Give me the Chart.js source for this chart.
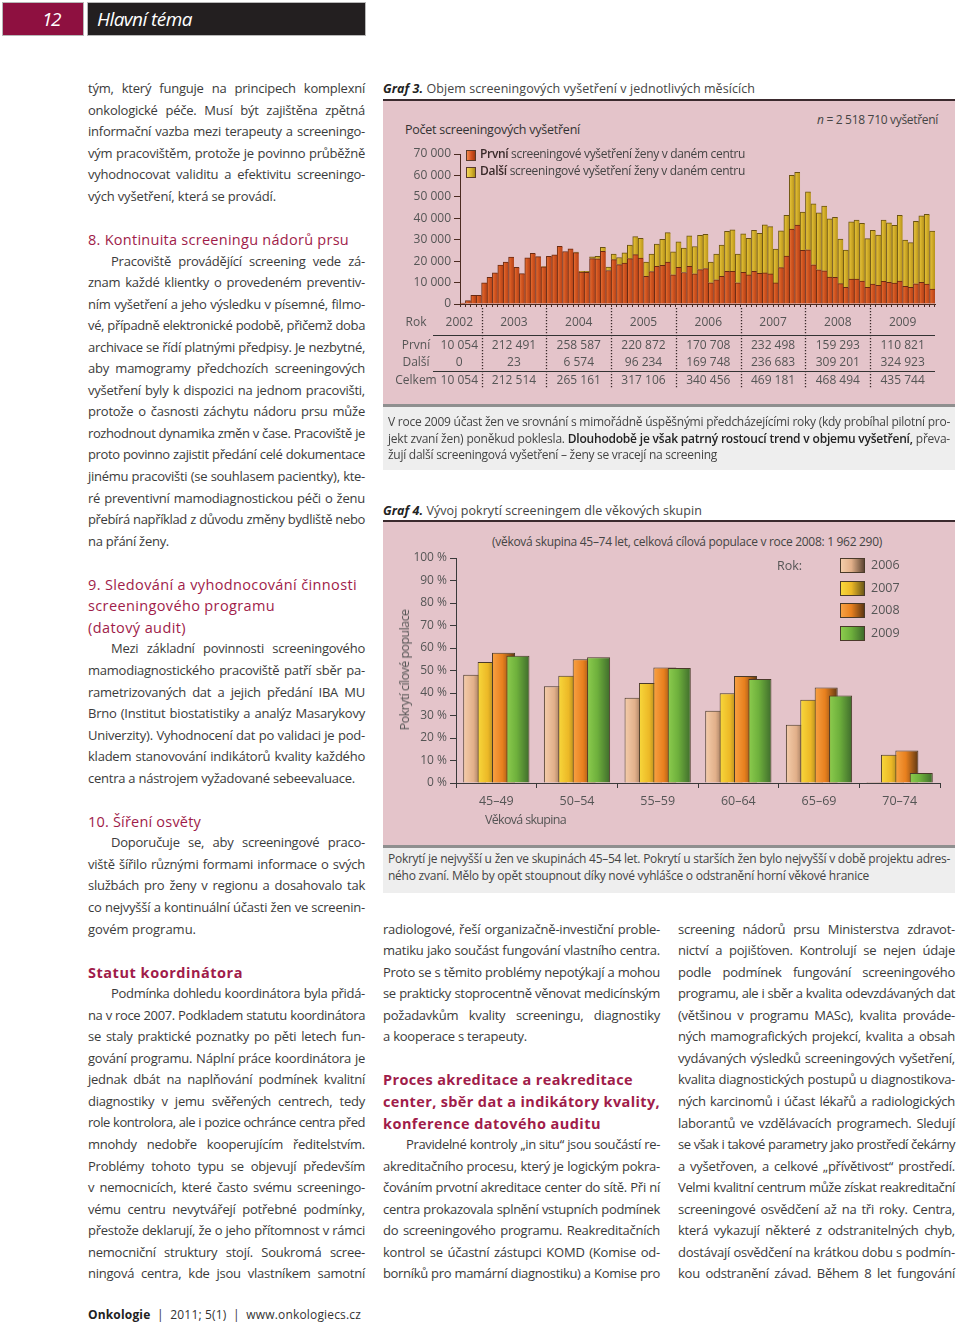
<!DOCTYPE html>
<html lang="cs">
<head>
<meta charset="utf-8">
<title>Onkologie – Hlavní téma</title>
<script src="https://cdn.jsdelivr.net/npm/chart.js@4.4.1/dist/chart.umd.min.js"></script>
<style>
html,body{margin:0;padding:0;background:#fff}
body{position:relative;width:960px;height:1325px;overflow:hidden;font-family:'Open Sans','Noto Sans',sans-serif;color:#3b3b3b}
.a{position:absolute;white-space:nowrap}
.blk{position:absolute}
.ln{overflow:visible;text-align:justify;text-align-last:justify;white-space:normal}
.ln.e,.ln.h,.ln.b,.ln.x{text-align:left;text-align-last:left;white-space:nowrap}
.ln.i{padding-left:23px}
.ln.h{color:#a01c4a;font-size:14.5px}
.ln.b{color:#a01c4a;font-size:14.5px;font-weight:700}
.cap b{font-weight:600;color:#222}
.pink{position:absolute;left:383px;width:572px;background:#e4c4ca}
.rule{position:absolute;left:383px;width:572px;background:#3b2a2e}
.grey{position:absolute;left:383px;width:572px;background:#8f8f8f}
.band{position:absolute;left:383px;width:572px;background:#eeeeee}
.lg{position:absolute;border:1px solid #5a3a2a;box-sizing:border-box}
canvas{position:absolute}
.t12{font-size:12px;line-height:16px}
</style>
</head>
<body>

<!-- header -->
<div class="a" style="left:3px;top:3px;width:80px;height:32px;background:#8e1040;box-shadow:0 0 0 1px #b8b8b8"></div>
<div class="a" data-w="18" style="left:42px;top:5px;font-size:19px;line-height:28px;font-style:italic;color:#fff"><span>12</span></div>
<div class="a" style="left:88px;top:3px;width:277px;height:32px;background:#231f20;box-shadow:0 0 0 1px #b8b8b8"></div>
<div class="a" data-w="95" style="left:97px;top:5px;font-size:19px;line-height:28px;font-style:italic;color:#fff"><span>Hlavní téma</span></div>

<!-- text columns -->
<div id="colL" class="blk" style="left:88px;width:277px"></div>
<div id="colM" class="blk" style="left:383px;width:277px"></div>
<div id="colR" class="blk" style="left:678px;width:277px"></div>

<!-- Graf 3 -->
<div class="a t12" data-w="372" style="left:383px;top:80.5px;font-size:12.5px;color:#444"><span><b style="font-style:italic;color:#222">Graf 3.</b> Objem screeningových vyšetření v jednotlivých měsících</span></div>
<div class="rule" style="top:99px;height:2px"></div>
<div class="pink" style="top:101px;height:303px"></div>
<div class="a t12" data-w="175" style="left:405px;top:121.6px;font-size:12.5px;color:#333"><span>Počet screeningových vyšetření</span></div>
<div class="a t12" data-w="121" style="right:22px;top:111.6px;color:#444"><span><i>n</i> = 2 518 710 vyšetření</span></div>
<canvas id="c3" width="572" height="294" style="left:383px;top:101px;width:572px;height:294px"></canvas>
<div class="lg" style="left:466px;top:150px;width:10px;height:11px;background:linear-gradient(to right,#f08a50,#d4501e 55%,#a33a12)"></div>
<div class="lg" style="left:466px;top:166.5px;width:10px;height:11px;background:linear-gradient(to right,#f0d45a,#d8b42c 55%,#a88a18)"></div>
<div class="a t12" data-w="265" style="left:480px;top:146px;color:#444"><span><b style="color:#3a2a2a;font-weight:600">První</b> screeningové vyšetření ženy v daném centru</span></div>
<div class="a t12" data-w="265" style="left:480px;top:162.5px;color:#444"><span><b style="color:#3a2a2a;font-weight:600">Další</b> screeningové vyšetření ženy v daném centru</span></div>
<div id="tab3"></div>
<div class="grey" style="top:404px;height:3px"></div>
<div class="band" style="top:407px;height:63px"></div>
<div id="cap3" class="blk cap" style="left:388px;top:414.4px;width:562px;font-size:12px;line-height:16.5px;color:#444"></div>

<!-- Graf 4 -->
<div class="a t12" data-w="319" style="left:383px;top:502.5px;font-size:12.5px;color:#444"><span><b style="font-style:italic;color:#222">Graf 4.</b> Vývoj pokrytí screeningem dle věkových skupin</span></div>
<div class="rule" style="top:520px;height:2px"></div>
<div class="pink" style="top:522px;height:323px"></div>
<div class="a t12" data-w="390" style="left:492px;top:533.6px;color:#444"><span>(věková skupina 45–74 let, celková cílová populace v roce 2008: 1 962 290)</span></div>
<canvas id="c4" width="572" height="323" style="left:383px;top:522px;width:572px;height:323px"></canvas>
<div class="a t12" style="left:777px;top:557.6px;font-size:12.5px;color:#555">Rok:</div>
<div id="leg4"></div>
<div class="a t12" data-w="121" data-rot="1" style="left:405px;top:670px;font-size:12.5px;color:#555;transform:translate(-50%,-50%) rotate(-90deg)"><span>Pokrytí cílové populace</span></div>
<div class="a t12" data-w="81" style="left:485px;top:811.6px;font-size:12.5px;color:#555"><span>Věková skupina</span></div>
<div class="grey" style="top:845px;height:3px"></div>
<div class="band" style="top:848px;height:45px"></div>
<div id="cap4" class="blk cap" style="left:388px;top:850.4px;width:562px;font-size:12px;line-height:17px;color:#444"></div>

<!-- footer -->
<div class="a t12" data-w="273" style="left:88px;top:1307px;color:#333"><span><b style="color:#222">Onkologie</b> &nbsp;|&nbsp; 2011; 5(1) &nbsp;|&nbsp; www.onkologiecs.cz</span></div>

<script>
// ---------------- DATA: Graf 3 ----------------
const years = ['2002','2003','2004','2005','2006','2007','2008','2009'];
const monthsPerYear = [4,12,12,12,12,12,12,12]; // 2002: září–prosinec
const prvniVysetreni = [
  400,1600,4050,4004,
  9900,12400,14600,18200,19600,21900,17100,14200,21500,23600,22100,17391,
  22300,22900,26961,24500,25700,24000,14900,14800,21200,21100,24600,15626,
  20700,18380,19150,21170,23030,21480,12950,15120,17600,18070,19620,13602,
  17150,14680,17620,14060,16070,16540,9870,11270,12970,15300,15300,9878,
  14800,13560,15270,14340,14490,14030,9840,16970,22400,34960,36820,25018,
  25300,18330,16000,15530,12590,12430,9490,7780,11660,11660,10730,7793,
  9300,8680,10540,10070,9760,10690,8210,7750,9450,10070,9300,7001
];
const dalsiVysetreni = [
  0,0,0,0,
  0,0,0,0,0,0,0,0,0,0,0,23,
  0,0,0,0,0,200,400,500,800,1200,1900,1574,
  2560,3320,4730,6270,8440,9220,6590,8140,10310,12160,13710,10784,
  11850,11370,14170,12770,16030,16020,9670,11990,14480,18660,19280,13458,
  17910,17140,19150,18680,22410,22090,15740,17140,18990,25040,24570,17823,
  27000,28410,26560,30120,27180,27960,20820,17410,26710,27490,26860,22681,
  25060,23510,28630,27850,26930,30650,21650,20880,29100,31110,32500,27053
];
const tabPrvni  = [10054,212491,258587,220872,170708,232498,159293,110821];
const tabDalsi  = [0,23,6574,96234,169748,236683,309201,324923];
const tabCelkem = [10054,212514,265161,317106,340456,469181,468494,435744];
const yTicks3 = [0,10000,20000,30000,40000,50000,60000,70000];

// ---------------- DATA: Graf 4 ----------------
const ageGroups = ['45–49','50–54','55–59','60–64','65–69','70–74'];
const cov2006 = [48.1,43.0,37.9,32.1,25.9,0.5];
const cov2007 = [53.8,47.7,44.4,39.9,37.0,12.6];
const cov2008 = [57.9,55.0,51.3,47.6,42.4,14.5];
const cov2009 = [56.6,55.9,51.1,46.2,38.9,4.4];
const covYears = ['2006','2007','2008','2009'];

// ---------------- styles ----------------
const shades3 = [['#e7743c','#d4561f','#b2421a'],['#e6c840','#d6b02a','#b4921c']];
const shades4 = [['#f4cdaa','#e2b08a','#5e4634'],['#f8d83c','#ecb826','#6c5818'],['#f8a244','#e8801e','#5e3712'],['#8ccc4e','#6eb03c','#3f6c2c']];

const fmtNum = n => String(n).replace(/\B(?=(\d{3})+(?!\d))/g,' ');
const fmtPct = v => v.toFixed(1).replace('.',',') + ' %';

// ---------------- text columns ----------------
const colL = [
 ['j','tým, který funguje na principech komplexní'],
 ['j','onkologické péče. Musí být zajištěna zpětná'],
 ['j','informační vazba mezi terapeuty a screeningo-'],
 ['j','vým pracovištěm, protože je povinno průběžně'],
 ['j','vyhodnocovat validitu a efektivitu screeningo-'],
 ['e','vých vyšetření, která se provádí.',188],
 ['_',''],
 ['h','8. Kontinuita screeningu nádorů prsu',261],
 ['j i','Pracoviště provádějící screening vede zá-'],
 ['j','znam každé klientky o provedeném preventiv-'],
 ['j','ním vyšetření a jeho výsledku v písemné, filmo-'],
 ['j','vé, případně elektronické podobě, přičemž doba'],
 ['j','archivace se řídí platnými předpisy. Je nezbytné,'],
 ['j','aby mamogramy předchozích screeningových'],
 ['j','vyšetření byly k dispozici na jednom pracovišti,'],
 ['j','protože o časnosti záchytu nádoru prsu může'],
 ['j','rozhodnout dynamika změn v čase. Pracoviště je'],
 ['j','proto povinno zajistit předání celé dokumentace'],
 ['j','jinému pracovišti (se souhlasem pacientky), kte-'],
 ['j','ré preventivní mamodiagnostickou péči o ženu'],
 ['j','přebírá například z důvodu změny bydliště nebo'],
 ['e','na přání ženy.',81],
 ['_',''],
 ['h','9. Sledování a vyhodnocování činnosti',269],
 ['h','screeningového programu',187],
 ['h','(datový audit)',98],
 ['j i','Mezi základní povinnosti screeningového'],
 ['j','mamodiagnostického pracoviště patří sběr pa-'],
 ['j','rametrizovaných dat a jejich předání IBA MU'],
 ['j','Brno (Institut biostatistiky a analýz Masarykovy'],
 ['j','Univerzity). Vyhodnocení dat po validaci je pod-'],
 ['j','kladem stanovování indikátorů kvality každého'],
 ['e','centra a nástrojem vyžadované sebeevaluace.',267],
 ['_',''],
 ['h','10. Šíření osvěty',113],
 ['j i','Doporučuje se, aby screeningové praco-'],
 ['j','viště šířilo různými formami informace o svých'],
 ['j','službách pro ženy v regionu a dosahovalo tak'],
 ['j','co nejvyšší a kontinuální účasti žen ve screenin-'],
 ['e','govém programu.',108],
 ['_',''],
 ['b','Statut koordinátora',155],
 ['j i','Podmínka dohledu koordinátora byla přidá-'],
 ['j','na v roce 2007. Podkladem statutu koordinátora'],
 ['j','se staly praktické poznatky po pěti letech fun-'],
 ['j','gování programu. Náplní práce koordinátora je'],
 ['j','jednak dbát na naplňování podmínek kvalitní'],
 ['j','diagnostiky v jemu svěřených centrech, tedy'],
 ['j','role kontrolora, ale i pozice ochránce centra před'],
 ['j','mnohdy nedobře kooperujícím ředitelstvím.'],
 ['j','Problémy tohoto typu se objevují především'],
 ['j','v nemocnicích, které často svému screeningo-'],
 ['j','vému centru nevytvářejí potřebné podmínky,'],
 ['j','přestože deklarují, že o jeho přítomnost v rámci'],
 ['j','nemocniční struktury stojí. Soukromá scree-'],
 ['j','ningová centra, kde jsou vlastníkem samotní']
];
const colM = [
 ['j','radiologové, řeší organizačně-investiční proble-'],
 ['j','matiku jako součást fungování vlastního centra.'],
 ['j','Proto se s těmito problémy nepotýkají a mohou'],
 ['j','se prakticky stoprocentně věnovat medicínským'],
 ['j','požadavkům kvality screeningu, diagnostiky'],
 ['e','a kooperace s terapeuty.',144],
 ['_',''],
 ['b','Proces akreditace a reakreditace',250],
 ['b','center, sběr dat a indikátory kvality,',277],
 ['b','konference datového auditu',218],
 ['j i','Pravidelné kontroly „in situ“ jsou součástí re-'],
 ['j','akreditačního procesu, který je logickým pokra-'],
 ['j','čováním prvotní akreditace center do sítě. Při ní'],
 ['j','centra prokazovala splnění vstupních podmínek'],
 ['j','do screeningového programu. Reakreditačních'],
 ['j','kontrol se účastní zástupci KOMD (Komise od-'],
 ['j','borníků pro mamární diagnostiku) a Komise pro']
];
const colR = [
 ['j','screening nádorů prsu Ministerstva zdravot-'],
 ['j','nictví a pojišťoven. Kontrolují se nejen údaje'],
 ['j','podle podmínek fungování screeningového'],
 ['j','programu, ale i sběr a kvalita odevzdávaných dat'],
 ['j','(většinou v programu MASc), kvalita prováde-'],
 ['j','ných mamografických projekcí, kvalita a obsah'],
 ['j','vydávaných výsledků screeningových vyšetření,'],
 ['j','kvalita diagnostických postupů u diagnostikova-'],
 ['j','ných karcinomů i účast lékařů a radiologických'],
 ['j','laborantů ve vzdělávacích programech. Sledují'],
 ['j','se však i takové parametry jako prostředí čekárny'],
 ['j','a vyšetřoven, a celkové „přívětivost“ prostředí.'],
 ['j','Velmi kvalitní centrum může získat reakreditační'],
 ['j','screeningové osvědčení až na tři roky. Centra,'],
 ['j','která vykazují některé z odstranitelných chyb,'],
 ['j','dostávají osvědčení na krátkou dobu s podmín-'],
 ['j','kou odstranění závad. Během 8 let fungování']
];
const cap3 = [
 ['j','V roce 2009 účast žen ve srovnání s mimořádně úspěšnými předcházejícími roky (kdy probíhal pilotní pro-'],
 ['j','jekt zvaní žen) poněkud poklesla. <b>Dlouhodobě je však patrný rostoucí trend v objemu vyšetření,</b> převa-'],
 ['e','žují další screeningová vyšetření – ženy se vracejí na screening',329]
];
const cap4 = [
 ['j','Pokrytí je nejvyšší u žen ve skupinách 45–54 let. Pokrytí u starších žen bylo nejvyšší v době projektu adres-'],
 ['e','ného zvaní. Mělo by opět stoupnout díky nové vyhlášce o odstranění horní věkové hranice',481]
];

const LH = 21.55, GRID0 = 78.2;
function build(el, lines, lh, startLine){
  if (startLine !== undefined) { el.style.top = (GRID0 + startLine*LH) + 'px'; el.style.fontSize='13px'; el.style.letterSpacing='-0.2px'; }
  lines.forEach(([cls, txt, w]) => {
    const d = document.createElement('div');
    d.className = 'ln ' + (cls === '_' ? 'x' : cls);
    d.style.height = lh + 'px'; d.style.lineHeight = lh + 'px';
    const s = document.createElement('span');
    s.innerHTML = txt || '&nbsp;';
    d.appendChild(s);
    if (w) d.dataset.w = w;
    el.appendChild(d);
  });
}
build(document.getElementById('colL'), colL, LH, 0);
build(document.getElementById('colM'), colM, LH, 39);
build(document.getElementById('colR'), colR, LH, 39);
build(document.getElementById('cap3'), cap3, 16.5);
build(document.getElementById('cap4'), cap4, 17);

// ---------------- Graf 4 legend ----------------
const leg4 = document.getElementById('leg4');
const legTops = [558,581,603,626];
covYears.forEach((y,i) => {
  const b = document.createElement('div');
  b.className = 'lg';
  b.style.cssText = `left:840px;top:${legTops[i]}px;width:25px;height:15px;border-color:#4a3a2a;background:linear-gradient(to right,${shades4[i][0]},${shades4[i][1]} 45%,${shades4[i][2]})`;
  leg4.appendChild(b);
  const t = document.createElement('div');
  t.className = 'a t12';
  t.style.cssText = `left:871px;top:${legTops[i]-1.5}px;font-size:12.5px;color:#555`;
  t.textContent = y;
  leg4.appendChild(t);
});

// ---------------- Chart defaults ----------------
Chart.defaults.font.family = "'Open Sans','Noto Sans',sans-serif";
Chart.defaults.font.size = 12;
Chart.defaults.color = '#555';

function gradientize(chart, shades){
  const ctx = chart.ctx;
  chart.data.datasets.forEach((ds, i) => {
    const meta = chart.getDatasetMeta(i);
    meta.data.forEach(el => {
      const l = el.x - el.width/2, r = el.x + el.width/2;
      const g = ctx.createLinearGradient(l, 0, r, 0);
      g.addColorStop(0, shades[i][0]);
      g.addColorStop(0.45, shades[i][1]);
      g.addColorStop(1, shades[i][2]);
      el.options = Object.assign({}, el.options, {backgroundColor: g});
    });
  });
}

// ---------------- Graf 3 chart ----------------
const monthLabels = [];
years.forEach((y, yi) => {
  const first = 13 - monthsPerYear[yi];
  for (let m = first; m <= 12; m++) monthLabels.push(m + '/' + y);
});

const yearLines3 = {
  id: 'yearLines3',
  beforeDatasetsDraw(chart){ gradientize(chart, shades3); },
  afterDraw(chart){
    const {ctx, chartArea:a, scales:{x}} = chart;
    const half = (x.getPixelForValue(1) - x.getPixelForValue(0)) / 2;
    ctx.save();
    ctx.strokeStyle = '#3a2a2a';
    ctx.lineWidth = 1.3;
    ctx.setLineDash([1.3, 1.7]);
    let idx = 0;
    monthsPerYear.slice(0, -1).forEach(n => {
      idx += n;
      const px = Math.round(x.getPixelForValue(idx) - half) + 0.5;
      ctx.beginPath(); ctx.moveTo(px, a.bottom + 4); ctx.lineTo(px, a.bottom + 84); ctx.stroke();
    });
    ctx.setLineDash([]);
    ctx.lineWidth = 1;
    ctx.strokeStyle = '#333';
    [31, 67].forEach(dy => {
      ctx.beginPath(); ctx.moveTo(a.left - 27, a.bottom + dy + 0.5); ctx.lineTo(a.right, a.bottom + dy + 0.5); ctx.stroke();
    });
    ctx.restore();
  }
};

const c3 = new Chart(document.getElementById('c3'), {
  type: 'bar',
  data: {
    labels: monthLabels,
    datasets: [
      {label:'První', data: prvniVysetreni, backgroundColor:'#d4561f', borderColor:'#6a2a12', borderWidth:{top:1,left:1,right:0,bottom:0}, borderSkipped:false},
      {label:'Další', data: dalsiVysetreni, backgroundColor:'#d6b02a', borderColor:'#6a5212', borderWidth:{top:1,left:1,right:0,bottom:0}, borderSkipped:false}
    ]
  },
  options: {
    responsive:false, animation:false, events:[],
    layout:{padding:{left:0,right:20,top:53,bottom:0}},
    plugins:{legend:{display:false}, tooltip:{enabled:false}},
    datasets:{bar:{barPercentage:1, categoryPercentage:1}},
    scales:{
      x:{stacked:true, offset:true,
         grid:{display:true, drawOnChartArea:false, drawTicks:true, tickLength:3, color:'#4a2a20', offset:true},
         border:{display:true, color:'#4a2a20', width:1},
         ticks:{display:false, autoSkip:false},
         afterFit(s){ s.height = 91; }},
      y:{stacked:true, min:0, max:70000,
         afterBuildTicks(s){ s.ticks = yTicks3.map(v => ({value:v})); },
         ticks:{callback: v => fmtNum(v), color:'#555', font:{size:12}, padding:3},
         grid:{drawOnChartArea:false, drawTicks:true, tickLength:6, color:'#4a2a20'},
         border:{display:true, color:'#4a2a20', width:1},
         afterFit(s){ s.width = 77; }}
    }
  },
  plugins:[yearLines3]
});

// Graf 3 table (positions derived from the x scale)
(function(){
  const xs = c3.scales.x, a = c3.chartArea;
  const ox = 383;
  const half = (xs.getPixelForValue(1) - xs.getPixelForValue(0)) / 2;
  const tab = document.getElementById('tab3');
  const rows = [['Rok', years, 322], ['První', tabPrvni.map(fmtNum), 345], ['Další', tabDalsi.map(fmtNum), 362], ['Celkem', tabCelkem.map(fmtNum), 380]];
  function cell(txt, cx, cy){
    const d = document.createElement('div');
    d.className = 'a t12';
    d.style.cssText = `left:${cx - 40}px;width:80px;text-align:center;top:${cy - 8.5}px;color:#555`;
    d.textContent = txt;
    tab.appendChild(d);
  }
  let idx = 0;
  const centers = [];
  monthsPerYear.forEach((n, yi) => {
    const l = yi === 0 ? a.left - 23 : xs.getPixelForValue(idx) - half;
    const r = xs.getPixelForValue(idx + n - 1) + half;
    centers.push(ox + (l + r) / 2);
    idx += n;
  });
  rows.forEach(([lab, vals, cy]) => {
    cell(lab, ox + a.left - 44, cy);
    vals.forEach((v, i) => cell(v, centers[i], cy));
  });
})();

// ---------------- Graf 4 chart ----------------
const order4 = {
  id: 'order4',
  beforeDatasetsDraw(chart){
    gradientize(chart, shades4);
    for (let i = 0; i < chart.data.datasets.length; i++) chart.getDatasetMeta(i).controller.draw();
    return false;
  },
  afterDatasetsDraw(chart){
    const ctx = chart.ctx;
    const last = chart.data.datasets.length - 1;
    const meta = chart.getDatasetMeta(last);
    ctx.save();
    ctx.fillStyle = '#555';
    ctx.font = "12px 'Open Sans','Noto Sans',sans-serif";
    ctx.textAlign = 'center';
    ctx.textBaseline = 'middle';
    meta.data.forEach((el, i) => {
      let top = Infinity;
      chart.data.datasets.forEach((d, k) => { top = Math.min(top, chart.getDatasetMeta(k).data[i].y); });
      ctx.fillText(fmtPct(chart.data.datasets[last].data[i]), el.x + 3, top - 11);
    });
    ctx.restore();
  }
};

new Chart(document.getElementById('c4'), {
  type: 'bar',
  data: {
    labels: ageGroups,
    datasets: [cov2006, cov2007, cov2008, cov2009].map((d, i) => ({
      label: covYears[i], data: d, backgroundColor: shades4[i][1], borderColor: '#4a3a2a', borderWidth: 1
    }))
  },
  options: {
    responsive:false, animation:false, events:[],
    layout:{padding:{left:0,right:15,top:36,bottom:0}},
    plugins:{legend:{display:false}, tooltip:{enabled:false}},
    datasets:{bar:{categoryPercentage:0.714, barPercentage:1.6}},
    scales:{
      x:{grid:{drawOnChartArea:false, drawTicks:true, tickLength:5, color:'#3a3a3a', offset:true},
         border:{display:true, color:'#3a3a3a'},
         ticks:{color:'#555', font:{size:12.5}, padding:6},
         afterFit(s){ s.height = 62; }},
      y:{min:0, max:100,
         ticks:{stepSize:10, callback: v => v + ' %', color:'#555', font:{size:12}, padding:3},
         grid:{drawOnChartArea:false, drawTicks:true, tickLength:6, color:'#3a3a3a'},
         border:{display:true, color:'#3a3a3a'},
         afterFit(s){ s.width = 73; }}
    }
  },
  plugins:[order4]
});

// ---------------- text fitting ----------------
function fitAll(){
  document.querySelectorAll('[data-w]').forEach(el => {
    const sp = el.querySelector('span') || el;
    el.style.letterSpacing = '0px';
    const nat = el.dataset.rot ? sp.offsetWidth : sp.getBoundingClientRect().width;
    const n = sp.textContent.length;
    el.style.letterSpacing = ((+el.dataset.w - nat) / n) + 'px';
  });
  document.querySelectorAll('.ln.j').forEach(el => {
    const sp = el.firstElementChild;
    el.style.letterSpacing = '';
    el.style.whiteSpace = 'nowrap';
    const cs = getComputedStyle(el);
    const avail = el.clientWidth - parseFloat(cs.paddingLeft) - parseFloat(cs.paddingRight);
    const nat = sp.getBoundingClientRect().width;
    const ls = parseFloat(cs.letterSpacing) || 0;
    if (nat > avail - 1) el.style.letterSpacing = (ls - (nat - avail + 1.5) / sp.textContent.length) + 'px';
    el.style.whiteSpace = 'normal';
  });
}
fitAll();
if (document.fonts && document.fonts.ready) document.fonts.ready.then(fitAll);
</script>
</body>
</html>
